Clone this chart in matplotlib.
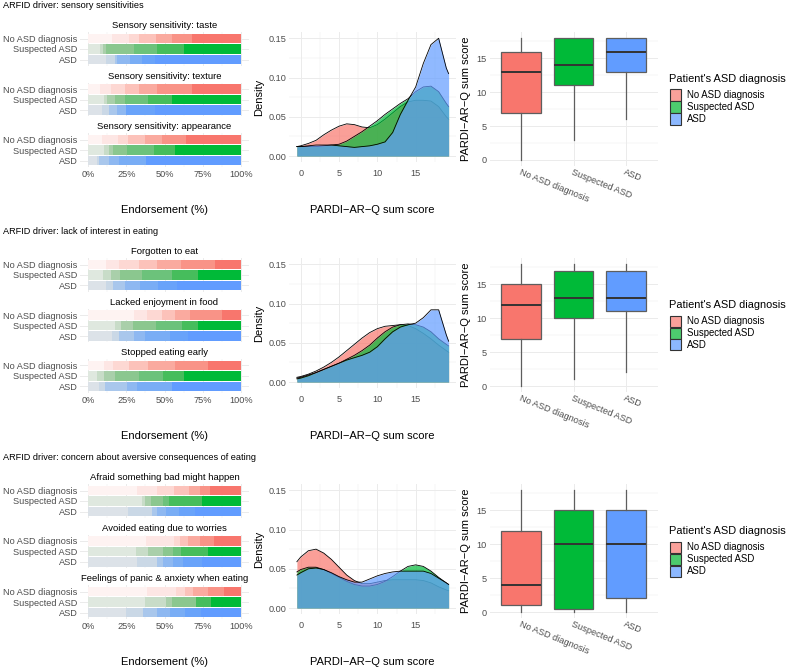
import numpy as np
import matplotlib
matplotlib.use('Agg')
import matplotlib.pyplot as plt
from matplotlib.patches import Rectangle
from matplotlib.ticker import FixedLocator

plt.rcParams['font.family'] = ['Liberation Sans', 'DejaVu Sans']

W, H = 787, 667

groups = ['No ASD diagnosis', 'Suspected ASD', 'ASD']
group_colors = ['#F8766D', '#00BA38', '#619CFF']

drivers = ['ARFID driver: sensory sensitivities',
           'ARFID driver: lack of interest in eating',
           'ARFID driver: concern about aversive consequences of eating']
item_titles = [['Sensory sensitivity: taste', 'Sensory sensitivity: texture',
                'Sensory sensitivity: appearance'],
               ['Forgotten to eat', 'Lacked enjoyment in food', 'Stopped eating early'],
               ['Afraid something bad might happen', 'Avoided eating due to worries',
                'Feelings of panic & anxiety when eating']]

# endorsement share (%) per response level 0..6, rows: No ASD, Suspected, ASD
taste = [[15.7, 10.8, 6.5, 11.3, 10.8, 13.1, 31.8],
         [8.0, 1.5, 2.2, 18.0, 15.2, 17.8, 37.2],
         [11.7, 5.7, 1.5, 8.7, 8.0, 7.9, 56.5]]
texture = [[8.0, 7.2, 8.7, 9.1, 12.0, 22.8, 32.2],
           [10.2, 2.2, 5.4, 6.1, 15.2, 16.1, 44.8],
           [9.1, 4.8, 5.0, 5.9, 0.0, 18.7, 56.5]]
appearance = [[9.1, 10.4, 6.5, 11.3, 10.9, 15.7, 36.1],
              [10.2, 3.7, 2.2, 9.3, 18.0, 13.5, 43.0],
              [5.9, 1.5, 6.5, 6.1, 18.0, 0.0, 62.0]]
forgotten = [[12.0, 8.0, 13.0, 12.0, 16.0, 22.0, 17.0],
             [10.0, 5.0, 6.0, 14.0, 20.0, 17.0, 28.0],
             [12.0, 4.0, 8.0, 10.0, 12.0, 12.0, 42.0]]
enjoyment = [[29.8, 8.7, 9.8, 8.7, 9.8, 20.7, 12.4],
             [17.8, 3.9, 8.0, 15.0, 17.0, 10.5, 27.8],
             [15.7, 4.8, 9.3, 7.6, 16.3, 11.5, 34.8]]
stopped = [[10.2, 6.0, 10.3, 13.0, 17.4, 21.7, 21.4],
           [6.0, 4.2, 7.6, 15.2, 16.3, 13.7, 37.0],
           [7.0, 4.3, 14.1, 6.5, 22.8, 0.0, 45.3]]
afraid = [[31.9, 13.2, 11.0, 9.9, 7.3, 6.6, 20.2],
          [35.2, 2.2, 3.7, 7.7, 4.4, 21.5, 25.3],
          [26.4, 15.4, 3.3, 5.9, 8.8, 9.9, 30.3]]
worries = [[37.8, 18.2, 4.0, 5.3, 7.7, 9.5, 17.6],
           [31.4, 8.1, 9.5, 6.6, 5.3, 17.6, 21.5],
           [31.9, 13.2, 3.7, 6.8, 6.6, 12.1, 25.7]]
panic = [[38.5, 19.1, 5.7, 5.5, 9.7, 10.1, 11.4],
         [37.4, 13.8, 3.7, 15.4, 0.0, 10.3, 19.4],
         [24.8, 11.4, 8.8, 8.4, 9.9, 10.8, 25.9]]
items = [[taste, texture, appearance], [forgotten, enjoyment, stopped],
         [afraid, worries, panic]]

# density of PARDI-AR-Q sum score
dens_x = [-0.5, 0, 1, 2, 3, 4, 5, 6, 7, 8, 9, 10, 11, 12, 13, 14, 15, 16, 17, 18, 19, 19.3]
dens1 = [[0.012, 0.013, 0.016, 0.020, 0.027, 0.033, 0.038, 0.041, 0.040, 0.037, 0.036,
          0.040, 0.047, 0.055, 0.063, 0.069, 0.071, 0.071, 0.070, 0.063, 0.050, 0.047],
         [0.012, 0.012, 0.012, 0.012, 0.013, 0.014, 0.015, 0.019, 0.025, 0.031, 0.038,
          0.045, 0.053, 0.060, 0.067, 0.073, 0.082, 0.088, 0.089, 0.082, 0.067, 0.063],
         [0.012, 0.012, 0.013, 0.014, 0.014, 0.014, 0.013, 0.012, 0.011, 0.012, 0.013,
          0.015, 0.018, 0.030, 0.053, 0.071, 0.088, 0.118, 0.142, 0.150, 0.112, 0.105]]
dens2 = [[0.006, 0.007, 0.010, 0.014, 0.019, 0.025, 0.032, 0.040, 0.048, 0.056, 0.063,
          0.068, 0.071, 0.072, 0.073, 0.072, 0.068, 0.062, 0.055, 0.047, 0.040, 0.038],
         [0.005, 0.006, 0.009, 0.012, 0.016, 0.020, 0.024, 0.029, 0.034, 0.040, 0.047,
          0.056, 0.064, 0.070, 0.073, 0.074, 0.073, 0.070, 0.064, 0.055, 0.048, 0.046],
         [0.004, 0.005, 0.008, 0.012, 0.016, 0.020, 0.024, 0.028, 0.031, 0.034, 0.038,
          0.045, 0.055, 0.064, 0.070, 0.073, 0.075, 0.082, 0.092, 0.092, 0.060, 0.052]]
dens3 = [[0.059, 0.065, 0.073, 0.075, 0.070, 0.062, 0.052, 0.042, 0.035, 0.031, 0.031,
          0.033, 0.035, 0.036, 0.036, 0.036, 0.036, 0.035, 0.032, 0.027, 0.023, 0.022],
         [0.046, 0.049, 0.052, 0.052, 0.049, 0.044, 0.039, 0.034, 0.030, 0.028, 0.028,
          0.030, 0.034, 0.040, 0.047, 0.053, 0.055, 0.053, 0.047, 0.039, 0.032, 0.030],
         [0.042, 0.045, 0.050, 0.051, 0.049, 0.045, 0.040, 0.036, 0.033, 0.033, 0.037,
          0.041, 0.044, 0.046, 0.047, 0.047, 0.047, 0.047, 0.044, 0.038, 0.032, 0.030]]
densities = [dens1, dens2, dens3]

# boxplot five numbers: (min, q1, median, q3, max)
box1 = [(0, 7, 13, 16, 18), (3, 11, 14, 18, 18), (6, 13, 16, 18, 18)]
box2 = [(0, 7, 12, 15, 18), (1, 10, 13, 17, 18), (2, 11, 13, 17, 18)]
box3 = [(0, 1, 4, 12, 18), (0, 0.5, 10, 15, 18), (0, 2, 10, 15, 18)]
boxes = [box1, box2, box3]

level_colors = [
    ['#FEF3F2', '#FDE6E4', '#FDD8D3', '#FCC2BA', '#FAAA9F', '#F99387', '#F8766D'],
    ['#DFE8DF', '#C8DCC8', '#A9CFAA', '#8BC78F', '#6CC27B', '#46BD5C', '#00BA38'],
    ['#DCE2E8', '#CAD8E6', '#A9C7EC', '#8EB8F1', '#79ADF5', '#69A3FA', '#619CFF'],
]
legend_fill = ['#F9A19A', '#4DCB6E', '#8CB8FF']

GRID = '#EBEBEB'
TICK = '#4D4D4D'
FS_TICK = 6.6
FS_LAB = 8.0

fig = plt.figure(figsize=(W / 100, H / 100), dpi=100)


def px_ax(x0, y0, x1, y1):
    return fig.add_axes([x0 / W, 1 - y1 / H, (x1 - x0) / W, (y1 - y0) / H])


def clean(ax):
    for s in ax.spines.values():
        s.set_visible(False)
    ax.tick_params(which='both', length=0, labelsize=FS_TICK, labelcolor=TICK, pad=2)
    ax.set_axisbelow(True)
    ax.grid(which='major', color=GRID, lw=0.7)
    ax.grid(which='minor', color=GRID, lw=0.35)


for r in range(3):
    dy = 226 * r
    fig.text(3 / W, 1 - (6 + dy) / H, drivers[r], fontsize=FS_TICK, va='center', ha='left')

    # stacked endorsement bars
    for k in range(3):
        cy = 49 + 50.5 * k + dy
        ax = px_ax(80.4, cy - 16.8, 248.6, cy + 16.8)
        clean(ax)
        ypos = [3, 2, 1]
        for gi in range(3):
            vals = np.array(items[r][k][gi], dtype=float)
            frac = vals / vals.sum()
            lefts = np.concatenate([[0], np.cumsum(frac)[:-1]])
            ax.barh([ypos[gi]] * len(frac), frac, left=lefts, height=0.9,
                    color=level_colors[gi], lw=0)
        ax.set_xlim(-0.05, 1.05)
        ax.set_ylim(0.4, 3.6)
        ax.xaxis.set_major_locator(FixedLocator([0, 0.25, 0.5, 0.75, 1]))
        ax.xaxis.set_minor_locator(FixedLocator([0.125, 0.375, 0.625, 0.875]))
        ax.set_yticks(ypos)
        ax.set_yticklabels(groups)
        ax.set_title(item_titles[r][k], fontsize=FS_TICK + 0.2, pad=3)
        if k == 2:
            ax.set_xticklabels(['0%', '25%', '50%', '75%', '100%'])
        else:
            ax.set_xticklabels([])
    fig.text(164.5 / W, 1 - (210 + dy) / H, 'Endorsement (%)', fontsize=FS_LAB,
             ha='center', va='center')

    # density
    ax = px_ax(289.3, 32.4 + dy, 456.2, 161.9 + dy)
    clean(ax)
    for gi in range(3):
        ax.fill_between(dens_x, 0, densities[r][gi], color=group_colors[gi], alpha=0.7,
                        lw=0, zorder=2 + 2 * gi)
        ax.plot(dens_x, densities[r][gi], color='black', lw=0.6, zorder=3 + 2 * gi)
    ax.set_xlim(-1.49, 20.29)
    ax.set_ylim(-0.0075, 0.1575)
    ax.xaxis.set_major_locator(FixedLocator([0, 5, 10, 15]))
    ax.xaxis.set_minor_locator(FixedLocator([2.5, 7.5, 12.5, 17.5]))
    ax.yaxis.set_major_locator(FixedLocator([0, 0.05, 0.10, 0.15]))
    ax.yaxis.set_minor_locator(FixedLocator([0.025, 0.075, 0.125]))
    ax.set_yticklabels(['0.00', '0.05', '0.10', '0.15'])
    ax.tick_params(axis='x', pad=5)
    ax.set_ylabel('Density', fontsize=FS_LAB, labelpad=3)
    fig.text(372.7 / W, 1 - (210 + dy) / H, 'PARDI\u2212AR\u2212Q sum score',
             fontsize=FS_LAB, ha='center', va='center')

    # boxplot
    ax = px_ax(489.5, 31.9 + dy, 657.5, 166.1 + dy)
    clean(ax)
    stats = []
    for gi in range(3):
        lo, q1, med, q3, hi = boxes[r][gi]
        stats.append(dict(whislo=lo, q1=q1, med=med, q3=q3, whishi=hi, label=groups[gi]))
    bp = ax.bxp(stats, positions=[1, 2, 3], widths=0.75, patch_artist=True,
                showfliers=False, showcaps=False,
                boxprops=dict(edgecolor='#5E5E5E', lw=0.9),
                whiskerprops=dict(color='#5E5E5E', lw=0.9),
                medianprops=dict(color='#333333', lw=1.4))
    for patch, c in zip(bp['boxes'], group_colors):
        patch.set_facecolor(c)
    ax.set_xlim(0.4, 3.6)
    ax.set_ylim(-0.9, 18.9)
    ax.yaxis.set_major_locator(FixedLocator([0, 5, 10, 15]))
    ax.yaxis.set_minor_locator(FixedLocator([2.5, 7.5, 12.5, 17.5]))
    ax.set_xticks([1, 2, 3])
    ax.set_xticklabels(groups, rotation=-22, ha='left', va='top', rotation_mode='anchor')
    ax.tick_params(axis='x', pad=1)
    ax.set_ylabel('PARDI\u2212AR\u2212Q sum score', fontsize=FS_LAB, labelpad=4)

    # legend
    fig.text(669 / W, 1 - (79 + dy) / H, "Patient's ASD diagnosis", fontsize=7.9,
             ha='left', va='center')
    for gi in range(3):
        yc = 95 + 12 * gi + dy
        fig.patches.append(Rectangle((669.5 / W, 1 - (yc + 5.5) / H), 11 / W, 11 / H,
                                     transform=fig.transFigure, facecolor=legend_fill[gi],
                                     edgecolor='#333333', lw=0.8))
        fig.text(687 / W, 1 - yc / H, groups[gi], fontsize=FS_TICK + 0.3,
                 ha='left', va='center')

fig.savefig('out.png', dpi=100)
